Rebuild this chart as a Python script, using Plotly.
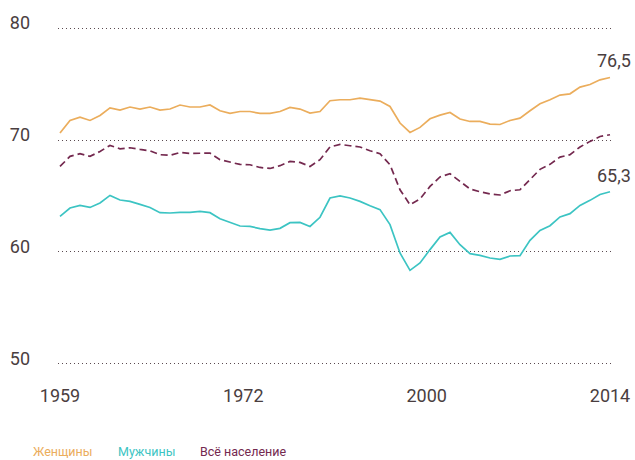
import plotly.graph_objects as go

years = list(range(1959, 2015))

women = [70.63, 71.75, 72.05, 71.75, 72.20, 72.88, 72.68, 72.95, 72.77, 72.95,
         72.68, 72.77, 73.13, 72.95, 72.95, 73.13, 72.62, 72.38, 72.55, 72.55,
         72.38, 72.38, 72.55, 72.91, 72.77, 72.41, 72.55, 73.51, 73.60, 73.60,
         73.75, 73.60, 73.48, 73.00, 71.52, 70.68, 71.13, 71.90, 72.23, 72.46,
         71.88, 71.66, 71.66, 71.43, 71.39, 71.75, 71.96, 72.62, 73.24, 73.60,
         74.02, 74.13, 74.73, 74.96, 75.38, 75.59]

men = [63.18, 63.93, 64.16, 63.98, 64.38, 65.05, 64.64, 64.52, 64.25, 63.98,
       63.51, 63.48, 63.54, 63.54, 63.63, 63.51, 62.97, 62.68, 62.32, 62.29,
       62.08, 61.96, 62.11, 62.62, 62.64, 62.28, 63.10, 64.82, 65.01, 64.82,
       64.52, 64.13, 63.78, 62.44, 59.91, 58.36, 59.02, 60.21, 61.34, 61.75,
       60.65, 59.85, 59.70, 59.46, 59.34, 59.64, 59.67, 61.04, 61.93, 62.35,
       63.13, 63.42, 64.16, 64.61, 65.14, 65.38]

total = [67.64, 68.54, 68.78, 68.54, 68.98, 69.52, 69.22, 69.31, 69.16, 69.04,
         68.69, 68.63, 68.89, 68.80, 68.82, 68.84, 68.24, 68.00, 67.82, 67.79,
         67.55, 67.46, 67.71, 68.09, 68.00, 67.64, 68.24, 69.38, 69.61, 69.49,
         69.38, 69.04, 68.78, 67.79, 65.56, 64.22, 64.73, 65.86, 66.70, 66.99,
         66.30, 65.63, 65.38, 65.18, 65.09, 65.47, 65.56, 66.50, 67.38, 67.83,
         68.48, 68.69, 69.38, 69.88, 70.32, 70.47]

y_ticks = [50, 60, 70, 80]
x_tick_text = ["1959", "1972", "2000", "2014"]
x_tick_pos = [1959, 1959 + 55 / 3, 1959 + 110 / 3, 2014]

end_labels = {"women": "76,5", "men": "65,3"}
legend_names = ["Женщины", "Мужчины", "Всё население"]

C_W = "#EBAD5C"
C_M = "#3CC4C3"
C_T = "#74294F"
TXT = "#4A3E40"

fig = go.Figure()
fig.add_trace(go.Scatter(x=years, y=women, mode="lines", name=legend_names[0],
                         line=dict(color=C_W, width=1.7)))
fig.add_trace(go.Scatter(x=years, y=men, mode="lines", name=legend_names[1],
                         line=dict(color=C_M, width=1.7)))
fig.add_trace(go.Scatter(x=years, y=total, mode="lines", name=legend_names[2],
                         line=dict(color=C_T, width=1.7, dash="7px,4px")))

L, T, W, H = 58, 27, 555, 338
fig.update_layout(
    width=635, height=460,
    margin=dict(l=L, r=635 - L - W, t=T, b=460 - T - H),
    paper_bgcolor="white", plot_bgcolor="white",
    showlegend=False,
    font=dict(family="Roboto, sans-serif", color=TXT),
)
fig.update_xaxes(range=[1958.8, 2014.3], tickvals=x_tick_pos, ticktext=x_tick_text,
                 showgrid=False, zeroline=False, showline=False, ticks="",
                 tickfont=dict(size=18, color=TXT), ticklabelstandoff=18,
                 automargin=False)
fig.update_yaxes(range=[49.9, 80.1], tickvals=y_ticks, showgrid=True,
                 gridcolor="#5a4a50", griddash="1px,3px", gridwidth=1,
                 zeroline=False, showline=False, ticks="",
                 tickfont=dict(size=18, color=TXT), ticklabelstandoff=27,
                 ticklabelshift=-5, automargin=False)

fig.add_annotation(x=years[-1], y=women[-1], text=end_labels["women"], showarrow=False,
                   xanchor="center", yanchor="bottom", xshift=4, yshift=4,
                   font=dict(size=18, color=TXT))
fig.add_annotation(x=years[-1], y=men[-1], text=end_labels["men"], showarrow=False,
                   xanchor="center", yanchor="bottom", xshift=4, yshift=4,
                   font=dict(size=18, color=TXT))

leg_x = [31, 116, 198]
for name, col, px in zip(legend_names, [C_W, C_M, C_T], leg_x):
    fig.add_annotation(xref="paper", yref="paper", x=(px - L) / W, y=(T + H - 452) / H,
                       text=name, showarrow=False, xanchor="left", yanchor="middle",
                       font=dict(size=12.5, color=col))

fig.write_html("out.html", post_script="document.body.style.margin='0';",
               config={"displayModeBar": False})
